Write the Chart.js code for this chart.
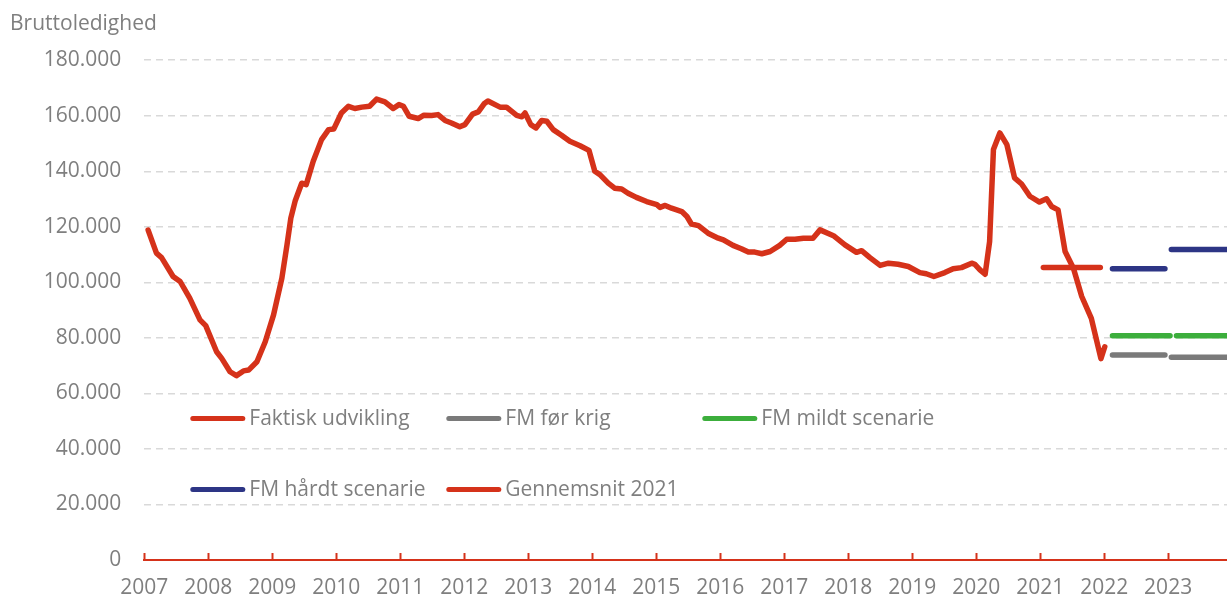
<!DOCTYPE html>
<html>
<head>
<meta charset="utf-8">
<script src="https://cdn.jsdelivr.net/npm/chart.js@4.4.1/dist/chart.umd.min.js"></script>
<style>
  html, body { margin: 0; padding: 0; background: #ffffff; }
  #wrap { width: 1227px; height: 599px; position: relative; }
</style>
</head>
<body>
<div id="wrap"><canvas id="c"></canvas></div>
<script>
// ---------- DATA ----------
const yearTicks = [2007, 2008, 2009, 2010, 2011, 2012, 2013, 2014, 2015, 2016, 2017, 2018, 2019, 2020, 2021, 2022, 2023];

// Faktisk udvikling (decimal year / persons)
const faktiskYears = [
  2007.06, 2007.19, 2007.27, 2007.45, 2007.56, 2007.71, 2007.87, 2007.96,
  2008.13, 2008.21, 2008.34, 2008.44, 2008.55, 2008.63, 2008.76, 2008.89,
  2009.02, 2009.15, 2009.23, 2009.29, 2009.36, 2009.46, 2009.53, 2009.64, 2009.77, 2009.88, 2009.96,
  2010.08, 2010.19, 2010.29, 2010.40, 2010.52, 2010.63, 2010.76, 2010.89, 2010.98,
  2011.05, 2011.14, 2011.28, 2011.37, 2011.49, 2011.59, 2011.70, 2011.80, 2011.93,
  2012.01, 2012.13, 2012.22, 2012.31, 2012.37, 2012.56, 2012.66, 2012.82, 2012.90, 2012.95,
  2013.04, 2013.12, 2013.21, 2013.29, 2013.39, 2013.52, 2013.65, 2013.81, 2013.95,
  2014.04, 2014.12, 2014.25, 2014.35, 2014.46, 2014.56, 2014.69, 2014.85,
  2015.01, 2015.06, 2015.14, 2015.24, 2015.40, 2015.48, 2015.55, 2015.66, 2015.81, 2015.97,
  2016.05, 2016.20, 2016.33, 2016.44, 2016.54, 2016.65, 2016.78, 2016.93,
  2017.04, 2017.17, 2017.30, 2017.45, 2017.56, 2017.77, 2017.95,
  2018.13, 2018.21, 2018.34, 2018.50, 2018.63, 2018.78, 2018.94,
  2019.12, 2019.22, 2019.34, 2019.51, 2019.64, 2019.77, 2019.93, 2019.98,
  2020.06, 2020.14, 2020.21, 2020.27, 2020.37, 2020.48, 2020.60, 2020.71, 2020.84, 2020.99,
  2021.10, 2021.18, 2021.28, 2021.39, 2021.52, 2021.65, 2021.80, 2021.95,
  2022.01
];
const faktiskValues = [
  118800, 110500, 108900, 102100, 100300, 94300, 86500, 84400,
  75000, 72600, 67800, 66400, 68100, 68400, 71400, 78600,
  88300, 101500, 113500, 123100, 129500, 135700, 135200, 143600, 151400, 155000, 155200,
  161000, 163400, 162600, 163100, 163400, 166000, 165000, 162600, 164000,
  163400, 159800, 159000, 160200, 160100, 160400, 158300, 157400, 156000,
  156800, 160600, 161400, 164300, 165300, 163100, 163100, 160100, 159600, 161000,
  156800, 155600, 158300, 158000, 155000, 153000, 150800, 149200, 147500,
  140000, 138800, 135700, 133900, 133600, 132100, 130600, 129100,
  128000, 127000, 127700, 126700, 125500, 123700, 121000, 120400, 117700, 115900,
  115300, 113300, 112100, 110900, 110900, 110300, 111100, 113300,
  115500, 115500, 115900, 115900, 118900, 116800, 113500,
  110800, 111400, 108900, 106100, 106900, 106500, 105700,
  103500, 103100, 102100, 103500, 104900, 105300, 106900, 106500,
  104500, 102900, 114700, 147800, 153800, 149600, 137600, 135400, 131000, 128900,
  130100, 127300, 126100, 111100, 105100, 94900, 87000, 72500,
  76800
];

// Forecasts per year (Finansministeriet)
const fmYears = [2022, 2023];
const fmForKrig = [73800, 73000];
const fmMildt = [80800, 80800];
const fmHaardt = [104900, 111800];

// Average 2021
const gennemsnitYear = 2021;
const gennemsnit2021 = 105300;

const seriesLabels = ['Faktisk udvikling', 'FM før krig', 'FM mildt scenarie', 'FM hårdt scenarie', 'Gennemsnit 2021'];

// ---------- BUILDERS ----------
const RED = '#d5321a', GREY = '#7a7a7a', GREEN = '#3cae3c', NAVY = '#2d3585';
const TEXT = '#7f7f7f';
const FONT = '"Open Sans", "Noto Sans", sans-serif';

function yearSegments(years, values, spans) {
  const pts = [];
  years.forEach((yr, i) => {
    const [s, e] = spans[i];
    if (i > 0) pts.push({ x: yr + s - 0.02, y: null });
    pts.push({ x: yr + s, y: values[i] }, { x: yr + e, y: values[i] });
  });
  return pts;
}
const stdSpans = [[0.13, 0.95], [0.05, 0.95]];
const mildSpans = [[0.13, 1.03], [0.13, 0.95]];

const lineStyle = { pointRadius: 0, pointHoverRadius: 0, borderWidth: 5.5, tension: 0,
  borderCapStyle: 'round', borderJoinStyle: 'round', fill: false, spanGaps: false };

const datasets = [
  Object.assign({ label: seriesLabels[0], borderColor: RED, backgroundColor: RED, order: 0,
    data: faktiskYears.map((x, i) => ({ x, y: faktiskValues[i] })) }, lineStyle, { borderWidth: 5.5 }),
  Object.assign({ label: seriesLabels[1], borderColor: GREY, backgroundColor: GREY, order: 1,
    data: yearSegments(fmYears, fmForKrig, stdSpans) }, lineStyle),
  Object.assign({ label: seriesLabels[2], borderColor: GREEN, backgroundColor: GREEN, order: 1,
    data: yearSegments(fmYears, fmMildt, mildSpans) }, lineStyle),
  Object.assign({ label: seriesLabels[3], borderColor: NAVY, backgroundColor: NAVY, order: 1,
    data: yearSegments(fmYears, fmHaardt, stdSpans) }, lineStyle),
  Object.assign({ label: seriesLabels[4], borderColor: RED, backgroundColor: RED, order: 1,
    data: yearSegments([gennemsnitYear], [gennemsnit2021], [[0.05, 0.94]]) }, lineStyle)
];

function fmtThousands(v) {
  return String(Math.round(v)).replace(/\B(?=(\d{3})+(?!\d))/g, '.');
}

// ---------- PLUGINS ----------
const axisTickMarks = {
  id: 'axisTickMarks',
  afterDatasetsDraw(chart) {
    const { ctx, chartArea, scales } = chart;
    ctx.save();
    ctx.strokeStyle = RED;
    ctx.lineWidth = 2;
    yearTicks.forEach(yr => {
      const x = Math.round(scales.x.getPixelForValue(yr)) + 0.5;
      ctx.beginPath();
      ctx.moveTo(x, chartArea.bottom - 7);
      ctx.lineTo(x, chartArea.bottom);
      ctx.stroke();
    });
    ctx.restore();
  }
};

const gridLegend = {
  id: 'gridLegend',
  afterDraw(chart) {
    const { ctx, chartArea } = chart;
    ctx.save();
    ctx.font = '21px ' + FONT;
    ctx.textBaseline = 'middle';
    ctx.textAlign = 'left';
    chart.data.datasets.forEach((ds, i) => {
      const col = i % 3, row = Math.floor(i / 3);
      const x0 = chartArea.left + 46 + col * 256;
      const y = 418.5 + row * 71;
      ctx.strokeStyle = ds.borderColor;
      ctx.lineWidth = 5;
      ctx.lineCap = 'round';
      ctx.beginPath();
      ctx.moveTo(x0 + 2.5, y);
      ctx.lineTo(x0 + 52.5, y);
      ctx.stroke();
      ctx.fillStyle = TEXT;
      ctx.fillText(ds.label, x0 + 59, y + 1);
    });
    ctx.restore();
  }
};

// ---------- CHART ----------
new Chart(document.getElementById('c'), {
  type: 'line',
  data: { datasets },
  options: {
    responsive: true,
    maintainAspectRatio: false,
    animation: false,
    events: [],
    layout: { padding: { left: 10, right: 0, top: 0, bottom: 3 } },
    plugins: {
      legend: { display: false },
      tooltip: { enabled: false },
      title: {
        display: true,
        text: 'Bruttoledighed',
        align: 'start',
        color: TEXT,
        font: { family: FONT, size: 21, weight: 'normal' },
        padding: { top: 11, bottom: 24 }
      }
    },
    scales: {
      x: {
        type: 'linear',
        min: 2007,
        max: 2023.92,
        afterBuildTicks(scale) { scale.ticks = yearTicks.map(v => ({ value: v })); },
        afterFit(scale) { scale.height = 36; },
        ticks: {
          color: TEXT,
          font: { family: FONT, size: 21 },
          padding: 15,
          maxRotation: 0,
          autoSkip: false,
          callback: v => String(v)
        },
        grid: { display: false, drawTicks: false },
        border: { display: true, color: RED, width: 2 }
      },
      y: {
        min: 0,
        max: 180000,
        afterBuildTicks(scale) {
          const t = [];
          for (let v = 0; v <= 180000; v += 20000) t.push({ value: v });
          scale.ticks = t;
        },
        afterFit(scale) { scale.width = 134.3; },
        ticks: {
          color: TEXT,
          font: { family: FONT, size: 21 },
          padding: 23,
          callback: v => fmtThousands(v)
        },
        grid: {
          drawTicks: false,
          lineWidth: 1.5,
          color: ctx => (ctx.tick && ctx.tick.value === 0) ? 'rgba(0,0,0,0)' : '#d9d9d9'
        },
        border: { display: false, dash: [7, 5] }
      }
    }
  },
  plugins: [axisTickMarks, gridLegend]
});
</script>
</body>
</html>
